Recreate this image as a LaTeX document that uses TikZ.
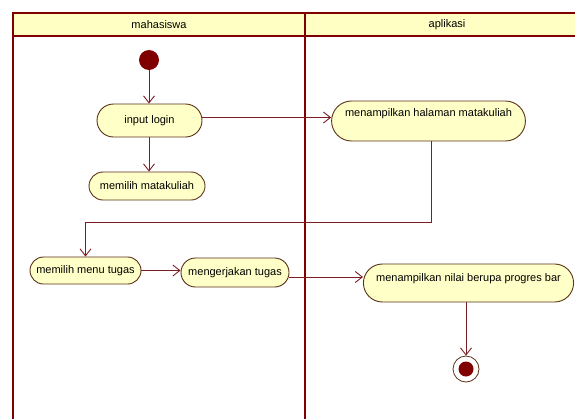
\documentclass[tikz,border=0pt]{standalone}
\usepackage{fontspec}
\setmainfont{Liberation Sans}
\usetikzlibrary{shapes.misc,arrows.meta}

\definecolor{lanered}{RGB}{128,0,0}
\definecolor{actfill}{RGB}{255,255,200}
\definecolor{headfill}{RGB}{255,255,196}
\definecolor{actline}{RGB}{90,50,25}
\definecolor{flowcol}{RGB}{125,30,35}

\tikzset{
  lane/.style={draw=lanered, line width=2.6pt},
  activity/.style={rounded rectangle, draw=actline, fill=actfill, line width=0.9pt,
    inner xsep=4pt, inner ysep=3pt, font=\fontsize{11}{13}\selectfont},
  flow/.style={draw=flowcol, line width=0.9pt,
    -{Straight Barb[length=7pt,width=11pt,line width=0.9pt]}},
  lanetitle/.style={font=\fontsize{11}{13}\selectfont, inner sep=0pt},
}

\begin{document}
\begin{tikzpicture}[x=1pt,y=-1pt]
  \clip (0,0) rectangle (575,418);
  \fill[white] (0,0) rectangle (575,418);

  % swimlanes
  \fill[headfill] (13,13) rectangle (600,36);
  \draw[lane] (13,440) -- (13,13) -- (600,13);
  \draw[lane] (13,36) -- (600,36);
  \draw[lane] (305,13) -- (305,440);
  \node[lanetitle] (laneA) at (159,24.5) {mahasiswa};
  \node[lanetitle] (laneB) at (447,24.5) {aplikasi};

  % start and end
  \node[circle, fill=lanered, minimum size=20pt, inner sep=0pt] (start) at (149,60) {};
  \node[circle, draw=actline, fill=white, line width=0.8pt, minimum size=26pt, inner sep=0pt] (stop) at (466,369) {};
  \node[circle, fill=lanered, minimum size=15pt, inner sep=0pt] (stopdot) at (466,369) {};

  % activities
  \node[activity, minimum width=113pt, minimum height=33pt] (login) at (149.5,120.5) {input login};
  \node[activity, minimum width=124pt, minimum height=28pt] (matkul) at (147,186) {memilih matakuliah};
  \node[activity, minimum width=185pt, text height=12pt, text depth=22pt] (halaman) at (428.5,121) {menampilkan halaman matakuliah};
  \node[activity, minimum width=119pt, minimum height=27pt] (menu) at (85.5,270.5) {memilih menu tugas};
  \node[activity, minimum width=116pt, minimum height=29pt] (kerja) at (235,272.5) {mengerjakan tugas};
  \node[activity, minimum width=205pt, text height=14pt, text depth=18pt] (nilai) at (468.5,283) {menampilkan nilai berupa progres bar};

  % control flows
  \draw[flow] (start) -- (start |- login.north);
  \draw[flow] (login.south -| start) -- (start |- matkul.north);
  \draw[flow] ([yshift=3pt]login.east) -- ([yshift=3pt]login.east -| halaman.west);
  \coordinate (bend) at (431,222);
  \draw[flow] (halaman.south -| bend) -- (bend) -| (menu.north);
  \draw[flow] (menu.east) -- (menu.east -| kerja.west);
  \draw[flow] ([yshift=-4.5pt]kerja.east) -- ([yshift=-4.5pt]kerja.east -| nilai.west);
  \draw[flow] (nilai.south -| stop.north) -- (stop.north);
\end{tikzpicture}
\end{document}
